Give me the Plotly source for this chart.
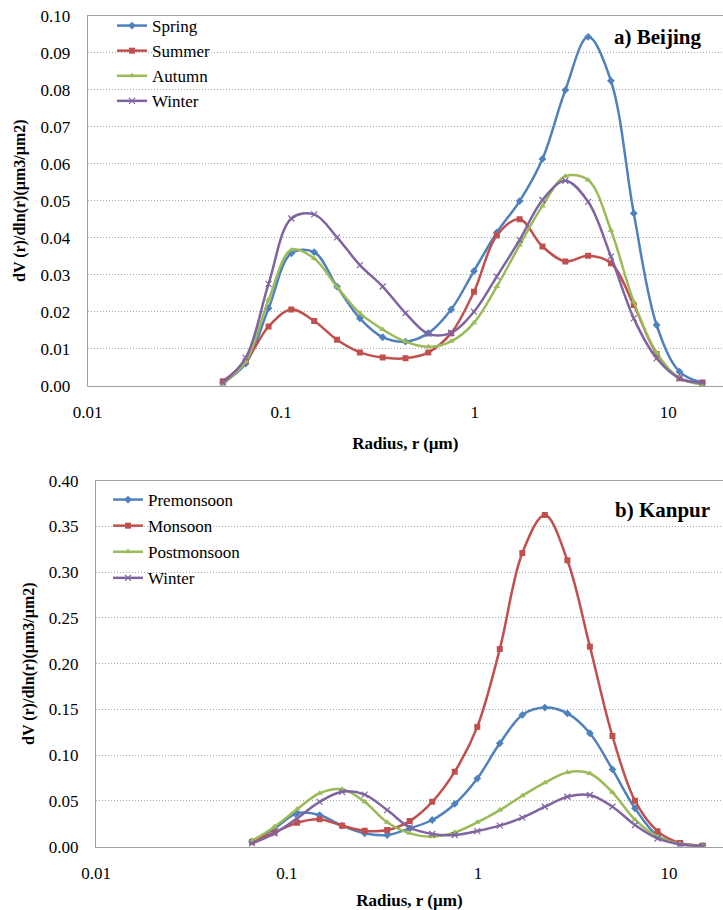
import plotly.graph_objects as go

# ---------------- data ----------------
radius_a = [0.050, 0.0656, 0.0861, 0.1129, 0.1482, 0.1944, 0.2551, 0.3347, 0.4391, 0.5761,
            0.7558, 0.9917, 1.3010, 1.7070, 2.2398, 2.9388, 3.8558, 5.0591, 6.6378, 8.7094,
            11.4275, 15.0]
spring = [0.0008, 0.0060, 0.0209, 0.0358, 0.0361, 0.0268, 0.0182, 0.0131, 0.0119, 0.0142,
          0.0206, 0.0310, 0.0414, 0.0499, 0.0613, 0.0799, 0.0943, 0.0824, 0.0466, 0.0164,
          0.0038, 0.0008]
summer = [0.0012, 0.0066, 0.0160, 0.0206, 0.0175, 0.0124, 0.0090, 0.0076, 0.0074, 0.0090,
          0.0142, 0.0254, 0.0406, 0.0450, 0.0376, 0.0336, 0.0351, 0.0331, 0.0218, 0.0086,
          0.0020, 0.0008]
autumn = [0.0005, 0.0065, 0.0232, 0.0367, 0.0344, 0.0267, 0.0196, 0.0152, 0.0119, 0.0105,
          0.0120, 0.0170, 0.0268, 0.0380, 0.0486, 0.0566, 0.0556, 0.0420, 0.0227, 0.0089,
          0.0020, 0.0003]
winter_a = [0.0008, 0.0075, 0.0275, 0.0452, 0.0463, 0.0401, 0.0326, 0.0268, 0.0196, 0.0140,
            0.0143, 0.0200, 0.0295, 0.0394, 0.0502, 0.0554, 0.0497, 0.0349, 0.0182, 0.0074,
            0.0020, 0.0008]

radius_b = [0.0656, 0.0861, 0.1129, 0.1482, 0.1944, 0.2551, 0.3347, 0.4391, 0.5761,
            0.7558, 0.9917, 1.3010, 1.7070, 2.2398, 2.9388, 3.8558, 5.0591, 6.6378, 8.7094,
            11.4275, 15.0]
premonsoon = [0.0055, 0.0200, 0.0365, 0.0346, 0.0230, 0.0146, 0.0128, 0.0200, 0.0292,
              0.0467, 0.0745, 0.1130, 0.1440, 0.1520, 0.1457, 0.1240, 0.0845, 0.0420, 0.0120,
              0.0035, 0.0010]
monsoon = [0.0055, 0.0155, 0.0262, 0.0300, 0.0230, 0.0175, 0.0182, 0.0280, 0.0490,
           0.0820, 0.1310, 0.2160, 0.3210, 0.3625, 0.3130, 0.2186, 0.1210, 0.0503, 0.0170,
           0.0040, 0.0010]
postmonsoon = [0.0065, 0.0219, 0.0409, 0.0584, 0.0627, 0.0490, 0.0267, 0.0146, 0.0110,
               0.0157, 0.0266, 0.0400, 0.0557, 0.0700, 0.0812, 0.0800, 0.0594, 0.0295, 0.0110,
               0.0030, 0.0008]
winter_b = [0.0036, 0.0146, 0.0310, 0.0490, 0.0600, 0.0570, 0.0400, 0.0210, 0.0139,
            0.0128, 0.0171, 0.0230, 0.0317, 0.0437, 0.0546, 0.0565, 0.0437, 0.0237, 0.0090,
            0.0025, 0.0008]

x_tick_vals = [0.01, 0.1, 1, 10]
x_tick_text = ["0.01", "0.1", "1", "10"]
labels_a = ["Spring", "Summer", "Autumn", "Winter"]
labels_b = ["Premonsoon", "Monsoon", "Postmonsoon", "Winter"]

# ---------------- style ----------------
colors = ["#4F81BD", "#C0504D", "#9BBB59", "#8064A2"]
symbols = ["diamond", "square", "triangle-up", "x-thin"]
FONT = "Liberation Serif"
W, H = 723, 910

fig = go.Figure()

def add_series(xs, ys, name, i, xa, ya, legend):
    sym = symbols[i]
    marker = dict(symbol=sym, size=6, color=colors[i])
    if sym == "x-thin":
        marker = dict(symbol=sym, size=6, color=colors[i], line=dict(color=colors[i], width=1.2))
    fig.add_trace(go.Scatter(
        x=xs, y=ys, name=name, mode="lines+markers",
        line=dict(color=colors[i], width=2.5, shape="spline", smoothing=1.0),
        marker=marker, xaxis=xa, yaxis=ya, legend=legend,
        legendgroup=f"{legend}{i}"))

for i, (ys, nm) in enumerate(zip([spring, summer, autumn, winter_a], labels_a)):
    add_series(radius_a, ys, nm, i, "x", "y", "legend")
for i, (ys, nm) in enumerate(zip([premonsoon, monsoon, postmonsoon, winter_b], labels_b)):
    add_series(radius_b, ys, nm, i, "x2", "y2", "legend2")

def px_x(p):
    return p / W

def px_y(p):
    return 1 - p / H

xcommon = dict(type="log", range=[-2, 1.283], tickvals=x_tick_vals, ticktext=x_tick_text,
               showgrid=False, showline=True, linecolor="#A0A0A0", linewidth=1, mirror=True,
               ticks="", zeroline=False, ticklabelstandoff=11, automargin=False,
               tickfont=dict(family=FONT, size=17, color="#000"),
               title=dict(text="<b>Radius, r (µm)</b>", font=dict(family=FONT, size=17, color="#000"),
                          standoff=16))
ycommon = dict(showgrid=True, gridcolor="#a8a8a8", griddash="1px,2px", gridwidth=1,
               showline=True, linecolor="#A0A0A0", linewidth=1, ticks="", zeroline=False,
               tickformat=".2f", ticklabelstandoff=13, automargin=False,
               tickfont=dict(family=FONT, size=17, color="#000"),
               title=dict(text="<b>dV (r)/dln(r)(µm3/µm2)</b>",
                          font=dict(family=FONT, size=16, color="#000"), standoff=10))

fig.update_layout(
    width=W, height=H,
    margin=dict(l=0, r=0, t=0, b=0),
    paper_bgcolor="white", plot_bgcolor="white",
    showlegend=True,
    xaxis=dict(domain=[px_x(87.6), 1], anchor="y", **xcommon),
    yaxis=dict(domain=[px_y(385.7), px_y(15.7)], anchor="x", range=[0, 0.10], dtick=0.01, **ycommon),
    xaxis2=dict(domain=[px_x(96), 1], anchor="y2", **xcommon),
    yaxis2=dict(domain=[px_y(846.7), px_y(480.7)], anchor="x2", range=[0, 0.40], dtick=0.05, **ycommon),
    legend=dict(x=px_x(112), y=px_y(8), xanchor="left", yanchor="top",
                bgcolor="rgba(0,0,0,0)", tracegroupgap=0,
                font=dict(family=FONT, size=17, color="#000")),
    legend2=dict(x=px_x(108), y=px_y(482), xanchor="left", yanchor="top",
                 bgcolor="rgba(0,0,0,0)", tracegroupgap=1,
                 font=dict(family=FONT, size=17, color="#000")),
    annotations=[
        dict(text="<b>a) Beijing</b>", x=px_x(703), y=px_y(36.7), xref="paper", yref="paper",
             xanchor="right", yanchor="middle", showarrow=False,
             font=dict(family=FONT, size=21, color="#000")),
        dict(text="<b>b) Kanpur</b>", x=px_x(712), y=px_y(510), xref="paper", yref="paper",
             xanchor="right", yanchor="middle", showarrow=False,
             font=dict(family=FONT, size=21, color="#000")),
    ],
)

fig.write_html("out.html", config={"displayModeBar": False},
               post_script="document.body.style.margin='0';document.body.style.overflow='hidden';")
